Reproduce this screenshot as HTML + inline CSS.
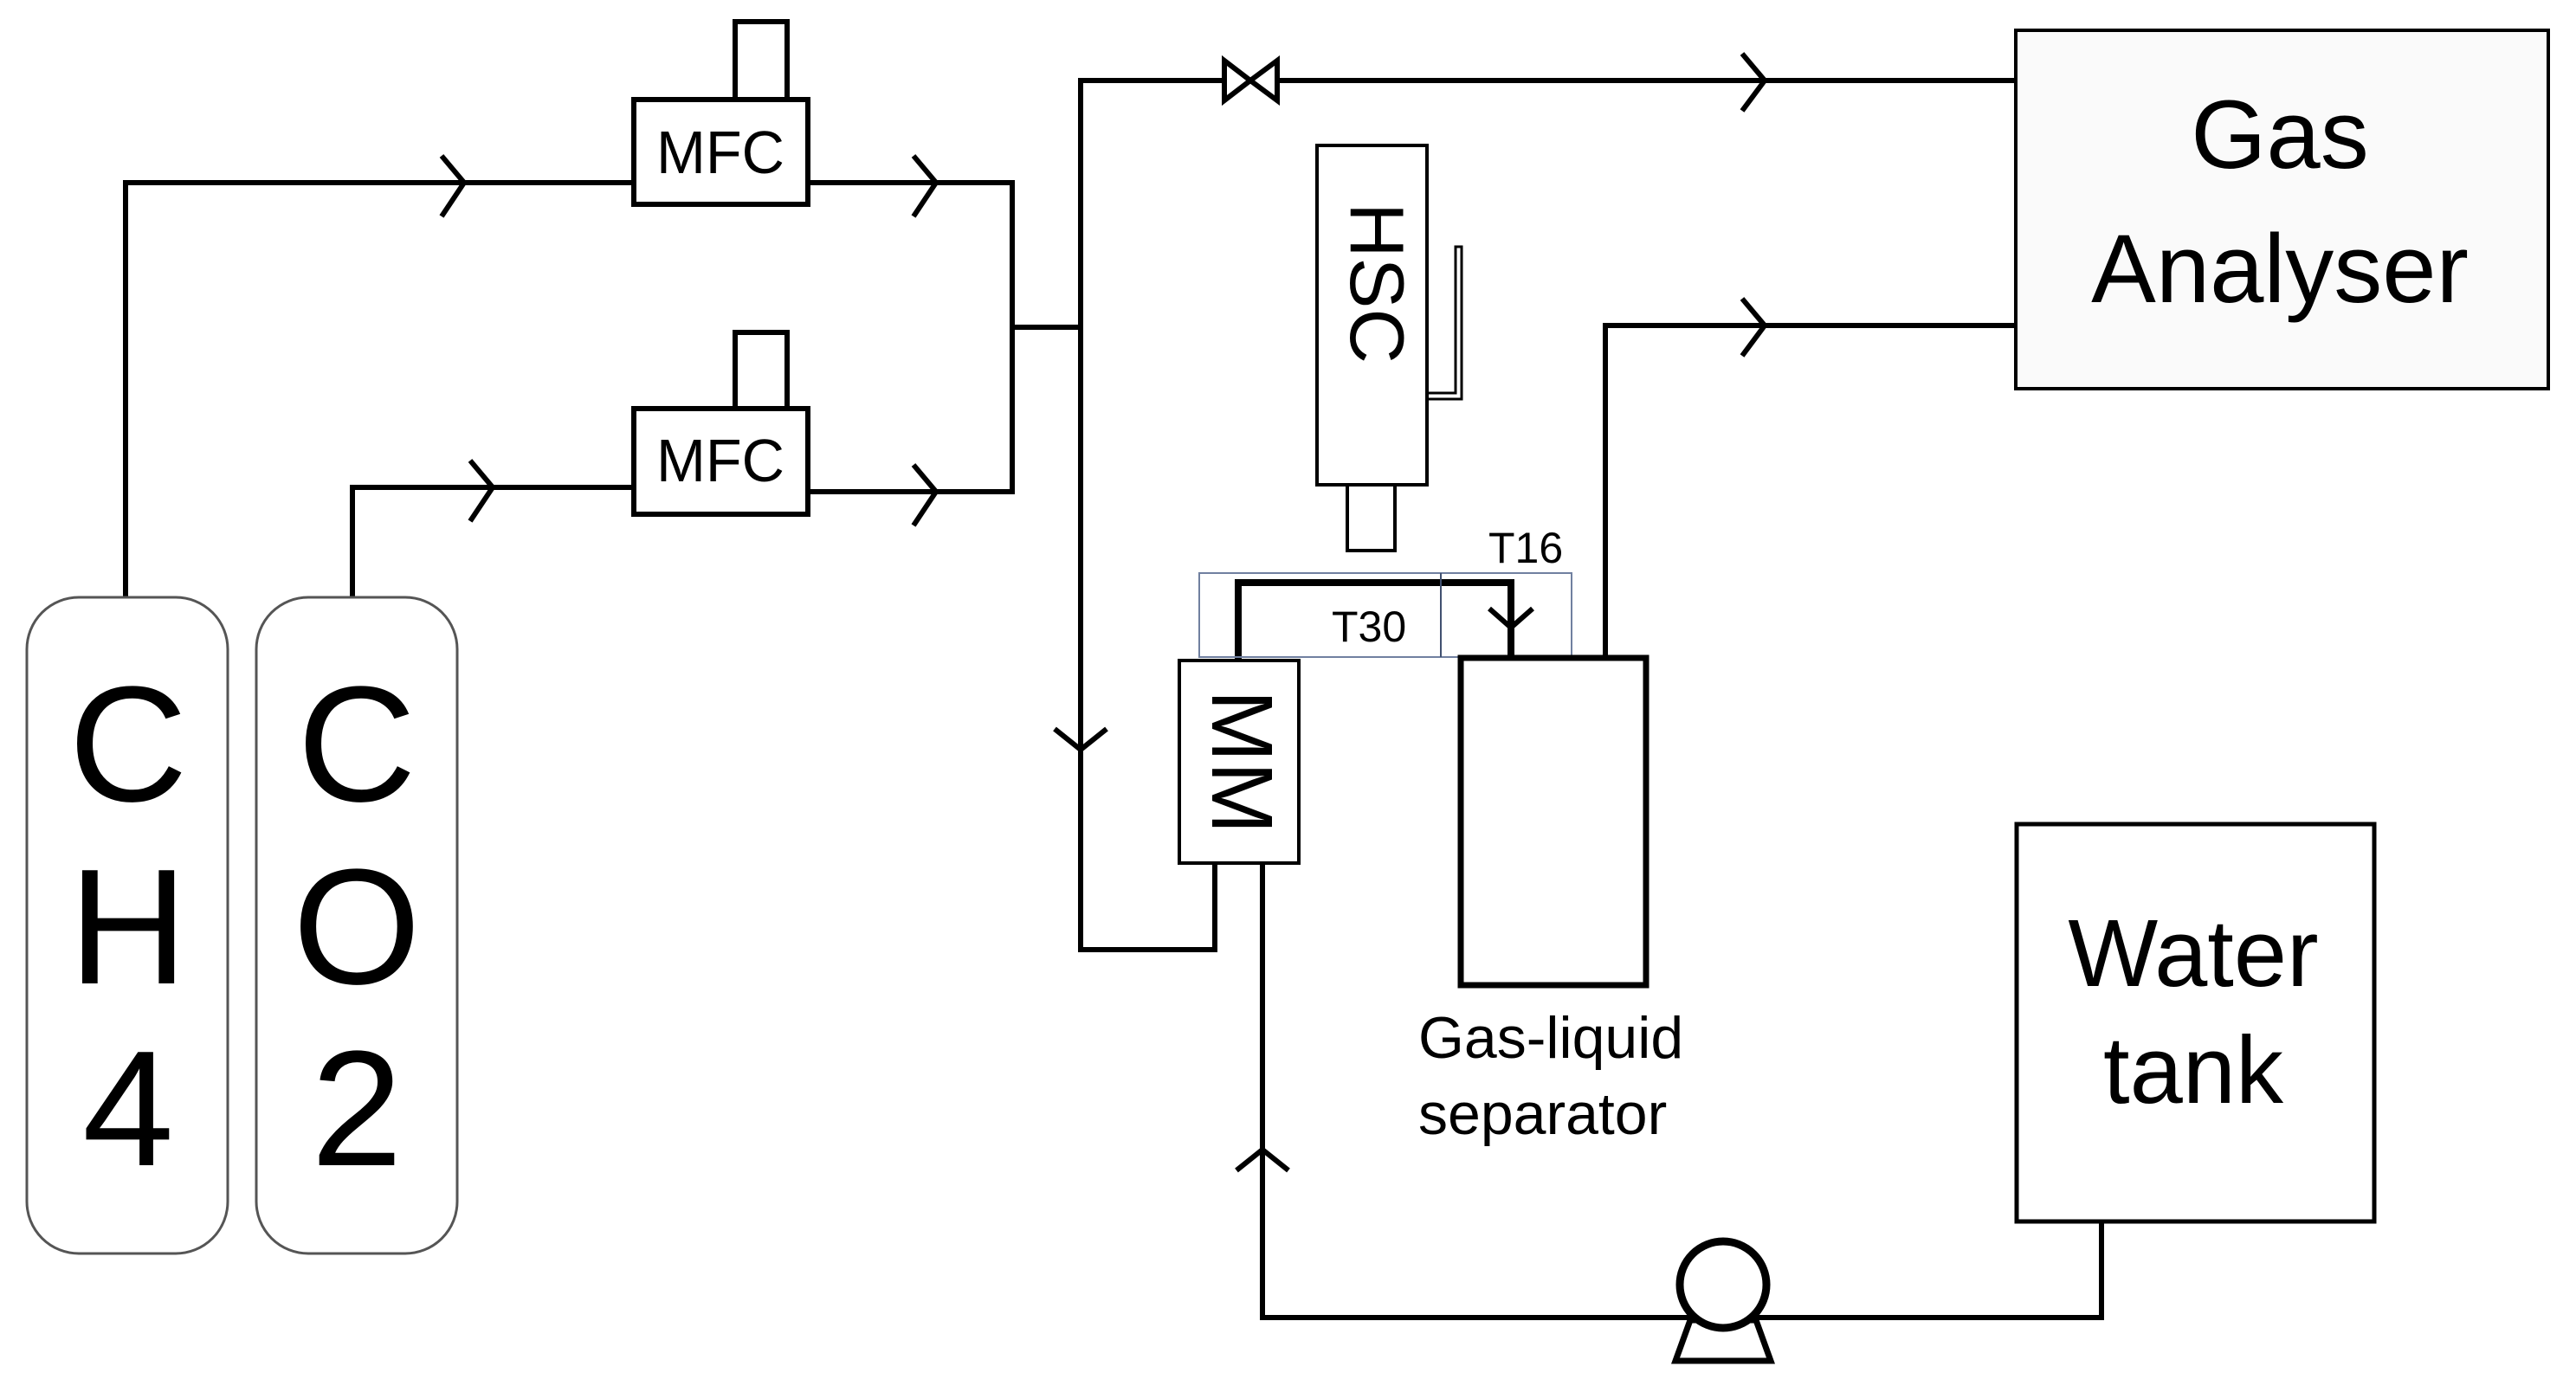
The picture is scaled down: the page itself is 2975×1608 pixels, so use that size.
<!DOCTYPE html>
<html><head><meta charset="utf-8"><style>
html,body{margin:0;padding:0;background:#fff;}
svg{display:block;}
text{font-family:"Liberation Sans",sans-serif;fill:#000;}
</style></head><body>
<svg width="2975" height="1608" viewBox="0 0 2975 1608" xmlns="http://www.w3.org/2000/svg">
<g fill="none" stroke="#000" stroke-width="6">
<polyline points="145,689 145,211 732,211"/>
<polyline points="933,211 1169,211 1169,568 933,568"/>
<polyline points="407,689 407,563 732,563"/>
<line x1="1169" y1="378" x2="1248" y2="378"/>
<polyline points="1414,93 1248,93 1248,1097 1403,1097 1403,997"/>
<line x1="1475" y1="93" x2="2328" y2="93"/>
<polyline points="1854,758 1854,376 2328,376"/>
<polyline points="1458,997 1458,1522 2427,1522 2427,1411"/>
<polyline points="1430,761 1430,673 1745,673 1745,758" stroke-width="8"/>
<path d="M510,180 L536,211 L510,250"/>
<path d="M1055,180 L1081,211 L1055,250"/>
<path d="M543,532 L569,563 L543,602"/>
<path d="M1055,537 L1081,568 L1055,607"/>
<path d="M2012,62 L2038,93 L2012,128"/>
<path d="M2012,345 L2038,376 L2012,411"/>
<path d="M1218,842 L1248,866 L1278,842"/>
<path d="M1428,1352 L1458,1328 L1488,1352"/>
<path d="M1720,703 L1745,725 L1770,703"/>
</g>
<g fill="#fff" stroke="#000" stroke-width="6">
<rect x="849" y="25" width="60" height="90"/>
<rect x="732" y="115" width="201" height="121"/>
<rect x="849" y="384" width="60" height="88"/>
<rect x="732" y="472" width="201" height="122"/>
<polygon points="1414,70 1444,93 1414,116"/>
<polygon points="1475,70 1444,93 1475,116"/>
</g>
<text x="832" y="200" font-size="70" text-anchor="middle" textLength="148" lengthAdjust="spacingAndGlyphs">MFC</text>
<text x="832" y="556" font-size="70" text-anchor="middle" textLength="148" lengthAdjust="spacingAndGlyphs">MFC</text>
<rect x="2328" y="35" width="615" height="414" fill="#fafafa" stroke="#000" stroke-width="4"/>
<text x="2633" y="194" font-size="112" text-anchor="middle">Gas</text>
<text x="2633" y="349" font-size="112" text-anchor="middle">Analyser</text>
<rect x="1521" y="168" width="127" height="392" fill="#fff" stroke="#000" stroke-width="4"/>
<text transform="translate(1560,327) rotate(90)" font-size="88" text-anchor="middle">HSC</text>
<path d="M1648,461 L1688,461 L1688,285 L1681,285 L1681,454 L1648,454" fill="none" stroke="#000" stroke-width="3"/>
<rect x="1556" y="560" width="55" height="76" fill="#fff" stroke="#000" stroke-width="4"/>
<rect x="1385" y="662" width="430" height="97" fill="none" stroke="#7080a0" stroke-width="2"/>
<line x1="1664" y1="662" x2="1664" y2="759" stroke="#405070" stroke-width="2"/>
<text x="1719" y="650" font-size="50">T16</text>
<text x="1538" y="741" font-size="50">T30</text>
<rect x="1362" y="763" width="138" height="234" fill="#fff" stroke="#000" stroke-width="4"/>
<text transform="translate(1400,880) rotate(90)" font-size="100" text-anchor="middle">MM</text>
<rect x="1687" y="760" width="214" height="378" fill="#fff" stroke="#000" stroke-width="7"/>
<text x="1638" y="1222" font-size="68">Gas-liquid</text>
<text x="1638" y="1310" font-size="68">separator</text>
<rect x="2329" y="952" width="413" height="459" fill="#fff" stroke="#000" stroke-width="5"/>
<text x="2533" y="1139" font-size="110" text-anchor="middle">Water</text>
<text x="2533" y="1274" font-size="110" text-anchor="middle">tank</text>
<polygon points="1952,1525 2028,1525 2045,1572 1935,1572" fill="#fff" stroke="#000" stroke-width="7"/>
<circle cx="1990" cy="1484" r="50" fill="#fff" stroke="#000" stroke-width="9"/>
<rect x="31" y="690" width="232" height="758" rx="60" ry="60" fill="#fff" stroke="#555" stroke-width="3"/>
<rect x="296" y="690" width="232" height="758" rx="60" ry="60" fill="#fff" stroke="#555" stroke-width="3"/>
<g font-size="190" text-anchor="middle">
<text x="148" y="925">C</text><text x="148" y="1136">H</text><text x="148" y="1346">4</text>
<text x="412" y="925">C</text><text x="412" y="1136">O</text><text x="412" y="1346">2</text>
</g>
</svg>
</body></html>
